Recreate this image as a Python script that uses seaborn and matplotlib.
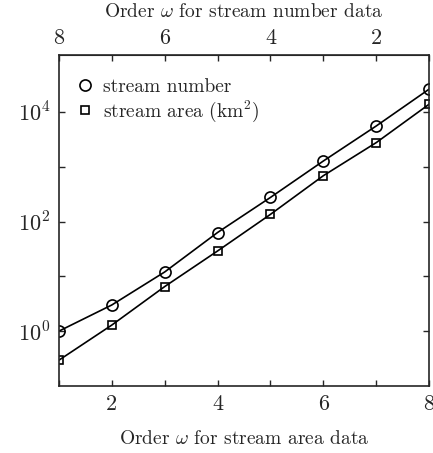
import matplotlib
matplotlib.use("Agg")
import matplotlib.pyplot as plt
import seaborn as sns
import pandas as pd
import numpy as np
from matplotlib.lines import Line2D

# Data
area_order = [1, 2, 3, 4, 5, 6, 7, 8]
stream_area = [0.295, 1.29, 6.5, 29, 135, 685, 2750, 13800]
number_order = [8, 7, 6, 5, 4, 3, 2, 1]
stream_number = [1.0, 3.0, 12, 63, 275, 1270, 5530, 26000]

sns.set_style("ticks")
plt.rcParams["font.family"] = "serif"
plt.rcParams["font.serif"] = ["cmr10", "DejaVu Serif"]
plt.rcParams["mathtext.fontset"] = "cm"
plt.rcParams["axes.formatter.use_mathtext"] = True
plt.rcParams["axes.unicode_minus"] = False

fig = plt.figure(figsize=(4.33, 4.53), dpi=100)
ax = fig.add_axes([0.136, 0.148, 0.855, 0.731])

df_num = pd.DataFrame({"x": [9 - o for o in number_order], "y": stream_number})
df_area = pd.DataFrame({"x": area_order, "y": stream_area})

sns.lineplot(data=df_num, x="x", y="y", ax=ax, color="black", lw=1.2,
             marker="o", markersize=8, markerfacecolor="none",
             markeredgecolor="black", markeredgewidth=1.2)
sns.lineplot(data=df_area, x="x", y="y", ax=ax, color="black", lw=1.2,
             marker="s", markersize=6, markerfacecolor="none",
             markeredgecolor="black", markeredgewidth=1.2)

ax.set_yscale("log")
ax.set_xlim(1, 8)
ax.set_ylim(0.1, 1.1e5)
ax.set_yticks([1, 10, 100, 1000, 1e4])
ax.set_yticklabels([r"$10^0$", "", r"$10^2$", "", r"$10^4$"])
ax.yaxis.set_minor_locator(matplotlib.ticker.NullLocator())
ax.set_xticks([1, 2, 3, 4, 5, 6, 7, 8])
ax.set_xticklabels(["", "2", "", "4", "", "6", "", "8"])
ax.tick_params(direction="in", length=4, width=1.0, labelsize=16,
               top=False, right=True, pad=6)
ax.set_xlabel(r"Order $\omega$ for stream area data", fontsize=14, labelpad=12)
ax.set_ylabel("")
for s in ax.spines.values():
    s.set_linewidth(1.2)

sec = ax.secondary_xaxis("top", functions=(lambda x: 9 - x, lambda x: 9 - x))
sec.set_xticks([8, 7, 6, 5, 4, 3, 2, 1])
sec.set_xticklabels(["8", "", "6", "", "4", "", "2", ""])
sec.tick_params(direction="in", length=4, width=1.0, labelsize=16, pad=5)
sec.set_xlabel(r"Order $\omega$ for stream number data", fontsize=14, labelpad=8)

handles = [
    Line2D([], [], ls="none", marker="o", markersize=8, markerfacecolor="none",
           markeredgecolor="black", markeredgewidth=1.2),
    Line2D([], [], ls="none", marker="s", markersize=6, markerfacecolor="none",
           markeredgecolor="black", markeredgewidth=1.2),
]
ax.legend(handles, ["stream number", r"stream area (km$^2$)"], loc="upper left",
          bbox_to_anchor=(0, 0.979),
          frameon=False, fontsize=14, handletextpad=0.4, handlelength=1.0,
          borderaxespad=0.45, labelspacing=0.1)

fig.savefig("out.png", dpi=100)
